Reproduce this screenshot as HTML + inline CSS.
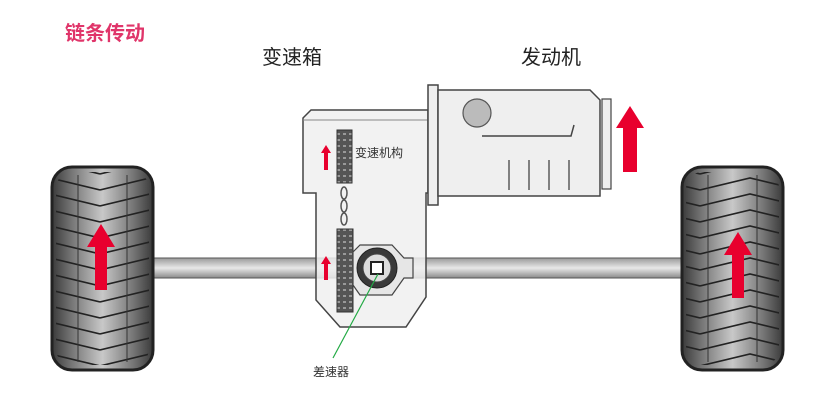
<!DOCTYPE html>
<html><head><meta charset="utf-8"><style>
html,body{margin:0;padding:0;background:#fff;}
svg{display:block;}
text{font-family:"Liberation Sans","Noto Sans CJK SC",sans-serif;}
</style></head><body>
<svg width="820" height="410" viewBox="0 0 820 410" xmlns="http://www.w3.org/2000/svg">
<defs>
<linearGradient id="axle" x1="0" y1="0" x2="0" y2="1">
<stop offset="0" stop-color="#999"/><stop offset="0.5" stop-color="#e8e8e8"/><stop offset="1" stop-color="#8a8a8a"/>
</linearGradient>
<linearGradient id="tire" x1="0" y1="0" x2="1" y2="0">
<stop offset="0" stop-color="#3a3a3a"/><stop offset="0.2" stop-color="#777"/><stop offset="0.5" stop-color="#c8c8c8"/><stop offset="0.8" stop-color="#777"/><stop offset="1" stop-color="#3a3a3a"/>
</linearGradient>
<pattern id="tread" width="100" height="16" patternUnits="userSpaceOnUse">
<path d="M0 14 L50 2 L100 14" fill="none" stroke="#222" stroke-width="1.6"/>
</pattern>
<pattern id="chain" width="6" height="6" patternUnits="userSpaceOnUse">
<rect width="6" height="6" fill="#555"/><rect x="1" y="1" width="3" height="2" fill="#999"/>
</pattern>
</defs>

<text x="65" y="40" font-size="20" fill="#e0356a" font-weight="bold">链条传动</text>
<text x="262" y="64" font-size="20" fill="#222">变速箱</text>
<text x="521" y="64" font-size="20" fill="#222">发动机</text>

<!-- axle -->
<rect x="150" y="258" width="536" height="20" fill="url(#axle)" stroke="#555" stroke-width="1"/>

<!-- tires -->
<g>
<rect x="52" y="167" width="101" height="203" rx="20" fill="url(#tire)" stroke="#222" stroke-width="3"/>
<rect x="56" y="172" width="93" height="193" rx="16" fill="url(#tread)" transform="translate(0,0)"/>
<line x1="78" y1="175" x2="78" y2="362" stroke="#333" stroke-width="1"/>
<line x1="127" y1="175" x2="127" y2="362" stroke="#333" stroke-width="1"/>
<polygon points="101,224 115,247 107,247 107,290 95,290 95,247 87,247" fill="#e8002e"/>
</g>
<g>
<rect x="682" y="167" width="101" height="203" rx="20" fill="url(#tire)" stroke="#222" stroke-width="3"/>
<rect x="686" y="172" width="93" height="193" rx="16" fill="url(#tread)"/>
<line x1="708" y1="175" x2="708" y2="362" stroke="#333" stroke-width="1"/>
<line x1="757" y1="175" x2="757" y2="362" stroke="#333" stroke-width="1"/>
<polygon points="738,232 752,255 744,255 744,298 732,298 732,255 724,255" fill="#e8002e"/>
</g>

<!-- gearbox -->
<path d="M303 118 L311 110 L428 110 L428 193 L426 193 L426 297 L406 327 L340 327 L316 300 L316 193 L303 193 Z" fill="#f0f0f0" fill-opacity="0.85" stroke="#444" stroke-width="1.5"/>
<line x1="303" y1="120" x2="428" y2="120" stroke="#888" stroke-width="1"/>
<!-- flange -->
<rect x="428" y="85" width="10" height="120" fill="#eee" stroke="#444" stroke-width="1.5"/>
<!-- engine -->
<path d="M438 90 L590 90 L600 100 L600 196 L438 196 Z" fill="#efefef" stroke="#444" stroke-width="1.5"/>
<rect x="602" y="99" width="9" height="90" fill="#eee" stroke="#444" stroke-width="1.2"/>
<circle cx="477" cy="113" r="14" fill="#bbb" stroke="#555" stroke-width="1.2"/>
<polyline points="482,136 571,136 574,125" fill="none" stroke="#444" stroke-width="1.5"/>
<g stroke="#444" stroke-width="1.3">
<line x1="509" y1="160" x2="509" y2="190"/><line x1="529" y1="160" x2="529" y2="190"/>
<line x1="549" y1="160" x2="549" y2="190"/><line x1="569" y1="160" x2="569" y2="190"/>
</g>
<polygon points="630,106 644,128 637,128 637,172 623,172 623,128 616,128" fill="#e8002e"/>

<!-- chain & sprockets -->
<rect x="337" y="130" width="15" height="53" fill="url(#chain)" stroke="#333"/>
<g fill="none" stroke="#555" stroke-width="1.5">
<ellipse cx="344" cy="193" rx="3" ry="6"/><ellipse cx="344" cy="206" rx="3" ry="6"/><ellipse cx="344" cy="219" rx="3" ry="6"/>
</g>
<rect x="337" y="229" width="16" height="83" fill="url(#chain)" stroke="#333"/>
<!-- differential -->
<path d="M360 245 L392 245 L404 258 L413 258 L413 278 L404 278 L392 295 L360 295 L353 285 L353 252 Z" fill="#e6e6e6" stroke="#444" stroke-width="1.2"/>
<circle cx="377" cy="268" r="20" fill="#3a3a3a" stroke="#222"/>
<circle cx="377" cy="268" r="14" fill="#ddd" stroke="#444"/>
<rect x="371" y="262" width="12" height="12" fill="#fff" stroke="#222" stroke-width="2"/>
<!-- small arrows -->
<polygon points="326,145 331,153 328,153 328,170 324,170 324,153 321,153" fill="#e8002e"/>
<polygon points="326,256 331,264 328,264 328,280 324,280 324,264 321,264" fill="#e8002e"/>
<text x="355" y="157" font-size="12" fill="#333">变速机构</text>
<!-- green leader -->
<line x1="378" y1="274" x2="333" y2="358" stroke="#22aa44" stroke-width="1.2"/>
<text x="313" y="376" font-size="12" fill="#333">差速器</text>
</svg>
</body></html>
